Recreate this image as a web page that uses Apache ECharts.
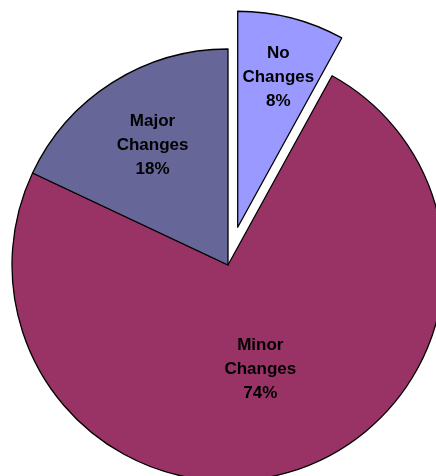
<!DOCTYPE html>
<html>
<head>
<meta charset="utf-8">
<script src="https://cdn.jsdelivr.net/npm/echarts@6/dist/echarts.min.js"></script>
<style>
  html, body { margin: 0; padding: 0; background: #ffffff; }
  #chart { width: 436px; height: 476px; }
</style>
</head>
<body>
<div id="chart"></div>
<script>
// Share of responses by amount of change
const categories = ['No\nChanges', 'Minor\nChanges', 'Major\nChanges'];
const shares = [8, 74, 18];
const sliceColors = ['#9999FF', '#993366', '#666699'];
const explodedSlices = [true, false, false];

// label nudges from the default inside position (dx, dy in px)
const labelNudge = [[13, -42], [-2, -1], [-16, -26]];

const chart = echarts.init(document.getElementById('chart'), null, { renderer: 'canvas' });

chart.setOption({
  backgroundColor: '#ffffff',
  animation: false,
  series: [{
    type: 'pie',
    center: [228, 265],
    radius: [0, 216],
    startAngle: 90,
    clockwise: true,
    selectedMode: 'multiple',
    selectedOffset: 39,
    avoidLabelOverlap: false,
    emphasis: { disabled: true },
    itemStyle: { borderColor: '#000000', borderWidth: 1.3 },
    label: {
      show: true,
      position: 'inside',
      color: '#000000',
      fontFamily: 'Liberation Sans, Arial, sans-serif',
      fontWeight: 'bold',
      fontSize: 17,
      lineHeight: 24,
      align: 'center',
      formatter: p => p.name + '\n' + p.value + '%'
    },
    labelLine: { show: false },
    labelLayout: p => ({ dx: labelNudge[p.dataIndex][0], dy: labelNudge[p.dataIndex][1] }),
    data: categories.map((name, i) => ({
      name: name,
      value: shares[i],
      selected: explodedSlices[i],
      itemStyle: { color: sliceColors[i] }
    }))
  }]
});
</script>
</body>
</html>
